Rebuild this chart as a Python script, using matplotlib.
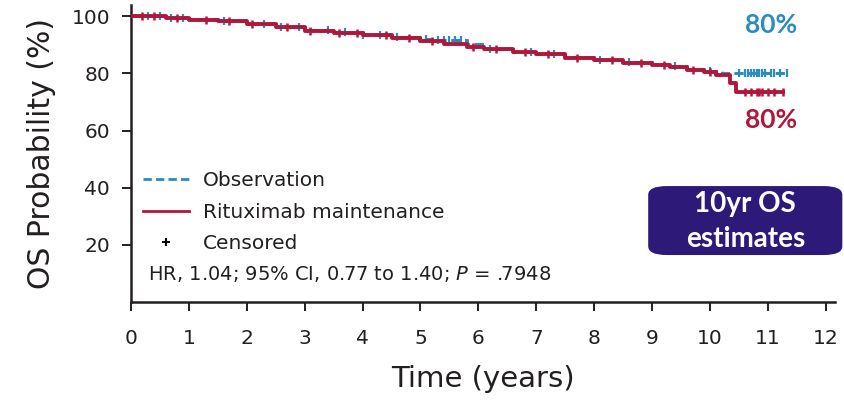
import numpy as np
import matplotlib
matplotlib.use("Agg")
import matplotlib.pyplot as plt
from matplotlib.lines import Line2D
from matplotlib.patches import FancyBboxPatch

plt.rcParams['font.family'] = ['DejaVu Sans']
plt.rcParams['mathtext.fontset'] = 'dejavusans'

# KM step data (years, OS %)
obs_t = [0, 0.6, 1.0, 1.5, 2.0, 2.5, 3.0, 3.5, 4.0, 4.5, 5.0, 5.3, 5.8, 6.1,
         6.6, 7.0, 7.5, 8.0, 8.5, 9.0, 9.3, 9.6, 9.9, 10.2]
obs_s = [100, 99.4, 98.9, 98.4, 97.4, 96.3, 95.2, 94.4, 93.4, 92.6, 91.9, 91.7,
         90.3, 88.6, 87.6, 86.9, 85.6, 84.7, 84.0, 83.3, 82.6, 81.6, 80.8, 80.0]
obs_end = 11.33

rit_t = [0, 0.6, 1.0, 1.5, 2.0, 2.5, 3.0, 3.5, 4.0, 4.5, 5.0, 5.4, 5.8, 6.1,
         6.6, 7.0, 7.5, 8.0, 8.5, 9.0, 9.3, 9.6, 9.9, 10.1, 10.35, 10.45]
rit_s = [100, 99.3, 98.8, 98.3, 97.2, 96.1, 95.0, 94.3, 93.3, 92.3, 91.3, 90.3,
         89.3, 88.4, 87.4, 86.8, 85.4, 84.6, 83.8, 83.1, 82.3, 81.3, 80.4, 79.3,
         76.5, 73.6]
rit_end = 11.26

obs_cens = [0.3, 0.5, 0.7, 0.9, 1.6, 2.3, 2.6, 2.9, 3.4, 3.7, 4.0, 4.3, 4.6,
            5.1, 5.3, 5.4, 5.5, 5.6, 5.7, 6.2, 6.9, 7.3, 8.1, 8.6, 9.4, 10.0,
            10.5, 10.6, 10.65, 10.7, 10.75, 10.8, 10.85, 10.9, 10.95, 11.05,
            11.1, 11.2, 11.33]
rit_cens = [0.2, 0.4, 0.8, 1.3, 1.7, 2.1, 2.7, 3.1, 3.6, 3.9, 4.4, 4.8, 5.2,
            5.9, 6.3, 6.8, 7.2, 7.7, 8.3, 8.8, 9.2, 9.7, 10.0, 10.6, 10.7,
            10.8, 10.85, 10.9, 11.0, 11.1, 11.26]

x_ticks = list(range(0, 13))
y_ticks = [20, 40, 60, 80, 100]

blue = '#2a8cc0'
red = '#b0173a'
txt = '#231f20'


def step_xy(t, s, end):
    x = list(t) + [end]
    y = list(s) + [s[-1]]
    return x, y


def value_at(t, s, times):
    idx = np.searchsorted(t, times, side='right') - 1
    return np.array(s)[idx]


fig = plt.figure(figsize=(8.44, 4.01), dpi=100)
ax = fig.add_axes([0.155, 0.247, 0.834, 0.741])

ox, oy = step_xy(obs_t, obs_s, obs_end)
rx, ry = step_xy(rit_t, rit_s, rit_end)
ax.step(ox, oy, where='post', color=blue, lw=2.2, ls=(0, (3, 1.5)), zorder=3)
ax.plot(obs_cens, value_at(obs_t, obs_s, obs_cens), ls='none', marker='|',
        ms=6, mew=1.6, color=blue, zorder=3)
ax.step(rx, ry, where='post', color=red, lw=2.8, zorder=4)
ax.plot(rit_cens, value_at(rit_t, rit_s, rit_cens), ls='none', marker='|',
        ms=6, mew=1.8, color=red, zorder=4)

ax.set_xlim(0, 12.15)
ax.set_ylim(0, 104)
ax.set_xticks(x_ticks)
ax.set_yticks(y_ticks)
for sp in ['top', 'right']:
    ax.spines[sp].set_visible(False)
for sp in ['left', 'bottom']:
    ax.spines[sp].set_linewidth(1.8)
    ax.spines[sp].set_color(txt)
ax.tick_params(direction='out', length=6.5, width=1.4, colors=txt,
               labelsize=14.5)
ax.tick_params(axis='y', pad=8.5)
ax.tick_params(axis='x', pad=13)
ax.set_xlabel('Time (years)', fontsize=21, color=txt, labelpad=12)
ax.set_ylabel('OS Probability (%)', fontsize=21.5, color=txt, labelpad=11)

handles = [
    Line2D([], [], color=blue, lw=2, ls=(0, (3, 1.5))),
    Line2D([], [], color=red, lw=2),
    Line2D([], [], color='black', ls='none', marker='+', ms=6, mew=1.5),
]
labels = ['Observation', 'Rituximab maintenance', 'Censored']
leg = ax.legend(handles, labels, loc='upper left', bbox_to_anchor=(0.0, 0.48),
                frameon=False, fontsize=14.5, handlelength=2.3,
                handletextpad=0.7, labelspacing=0.62, borderaxespad=0.2)
for t in leg.get_texts():
    t.set_color(txt)

ax.text(0.024, 0.095, 'HR, 1.04; 95% CI, 0.77 to 1.40; $\\it{P}$ = .7948',
        transform=ax.transAxes, fontsize=14, color=txt, va='center')

ax.text(11.05, 97.0, '80%', color=blue, fontsize=19, fontweight='bold',
        family='Lato', ha='center', va='center')
ax.text(11.05, 63.6, '80%', color=red, fontsize=19, fontweight='bold',
        family='Lato', ha='center', va='center')

box = FancyBboxPatch((0.768, 0.364), 0.230, 0.172,
                     boxstyle='round,pad=0,rounding_size=0.022',
                     transform=fig.transFigure, facecolor='#2d1a78',
                     edgecolor='none', zorder=5)
fig.patches.append(box)
fig.text(0.883, 0.447, '10yr OS\nestimates', color='white', fontsize=20,
         fontweight='bold', family='Lato', ha='center', va='center',
         linespacing=1.42, zorder=6)

fig.savefig('out.png', dpi=100)
